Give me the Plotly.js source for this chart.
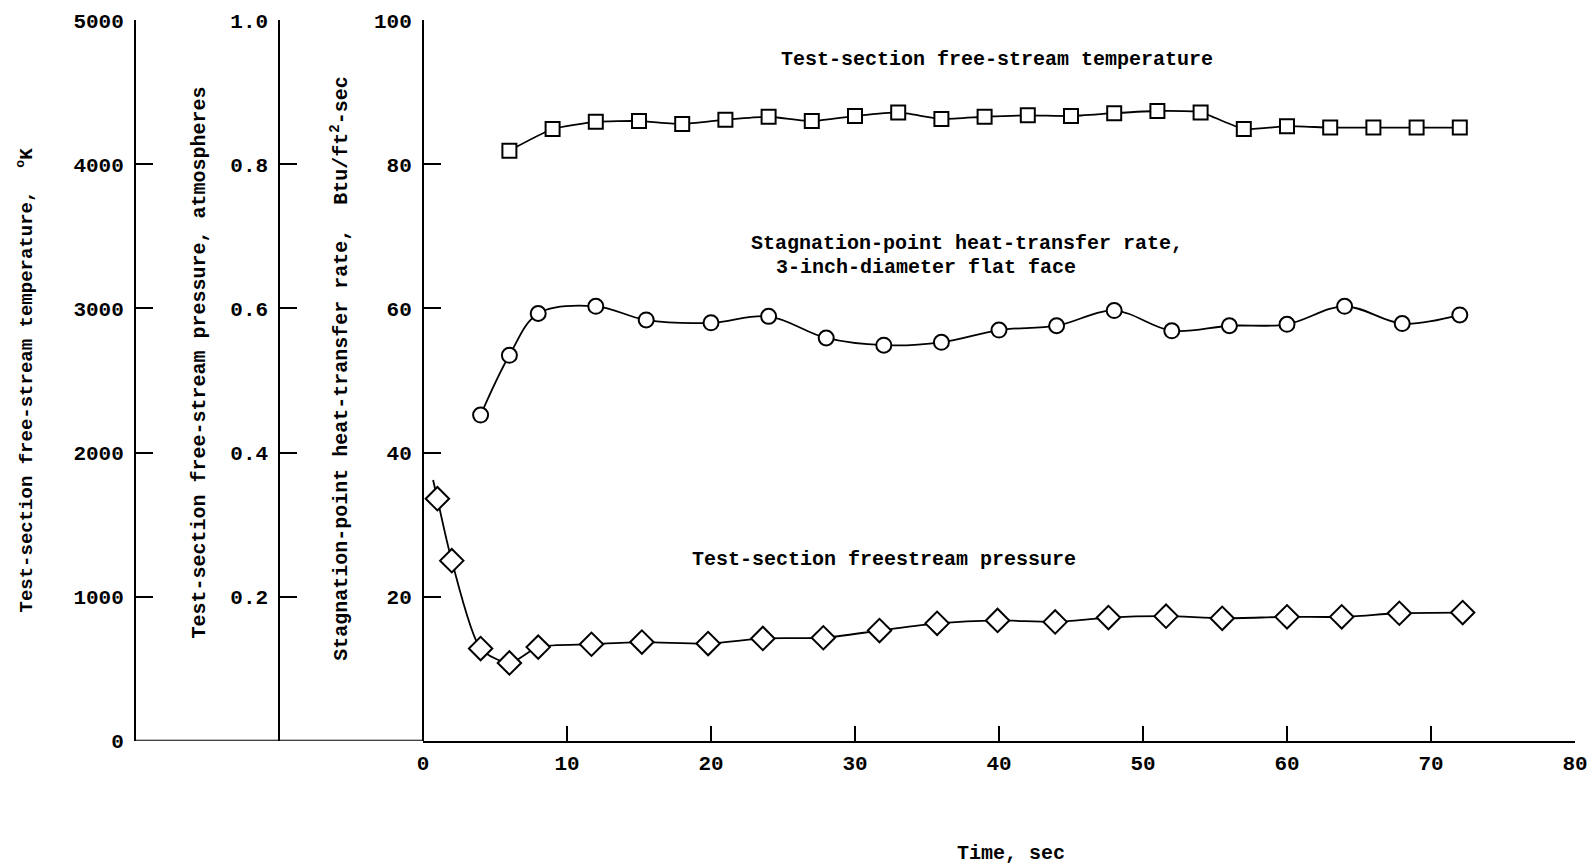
<!DOCTYPE html>
<html>
<head>
<meta charset="utf-8">
<script src="https://cdn.plot.ly/plotly-3.0.1.min.js"></script>
<style>html,body{margin:0;padding:0;background:#fff;}#chart{width:1591px;height:865px;}</style>
</head>
<body>
<div id="chart"></div>
<script>
// ---- data ----
const timeTemp = [6, 9, 12, 15, 18, 21, 24, 27, 30, 33, 36, 39, 42, 45, 48, 51, 54, 57, 60, 63, 66, 69, 72];
const tempK = [4095, 4245, 4295, 4300, 4280, 4310, 4330, 4300, 4335, 4360, 4315, 4330, 4340, 4335, 4355, 4370, 4360, 4245, 4265, 4255, 4255, 4255, 4255];

const timeHeat = [4, 6, 8, 12, 15.5, 20, 24, 28, 32, 36, 40, 44, 48, 52, 56, 60, 64, 68, 72];
const heatRate = [45.2, 53.5, 59.3, 60.3, 58.4, 58.0, 58.9, 55.9, 54.9, 55.3, 57.0, 57.6, 59.7, 56.9, 57.6, 57.8, 60.3, 57.9, 59.1];

const timePress = [1, 2, 4, 6, 8, 11.7, 15.2, 19.8, 23.6, 27.8, 31.7, 35.7, 39.9, 43.9, 47.6, 51.6, 55.5, 60, 63.8, 67.8, 72.2];
const pressAtm = [0.336, 0.250, 0.128, 0.108, 0.130, 0.134, 0.137, 0.135, 0.142, 0.143, 0.153, 0.163, 0.167, 0.165, 0.171, 0.173, 0.170, 0.172, 0.172, 0.177, 0.178];
const pressLeadTime = [0.7, 1];
const pressLead = [0.362, 0.336];

const xTicks = [0, 10, 20, 30, 40, 50, 60, 70, 80];
const heatTicks = [20, 40, 60, 80, 100];
const pressTicks = [0.2, 0.4, 0.6, 0.8, 1.0];
const tempTicks = [0, 1000, 2000, 3000, 4000, 5000];

const labelTemp = 'Test-section free-stream temperature';
const labelHeat1 = 'Stagnation-point heat-transfer rate,';
const labelHeat2 = '3-inch-diameter flat face';
const labelPress = 'Test-section freestream pressure';

// ---- layout geometry ----
const W = 1591, H = 865;
const FONT = '"Liberation Mono", "Courier New", monospace';
const NB = '\u00a0';
const pad = n => '\u200b' + NB.repeat(n);
const px = v => v / W;
const yDom = [(H - 740.8) / H, (H - 20.2) / H];
const xDom = [px(423), px(1575)];

const mk = (sym, size) => ({symbol: sym, size: size, color: '#fff', line: {color: '#000', width: 2}});

const traces = [
  {x: timeTemp, y: tempK, yaxis: 'y3', mode: 'lines+markers', type: 'scatter',
   line: {color: '#000', width: 1.8, shape: 'spline', smoothing: 0.5}, marker: mk('square', 14), cliponaxis: false},
  {x: timeHeat, y: heatRate, yaxis: 'y', mode: 'lines+markers', type: 'scatter',
   line: {color: '#000', width: 1.8, shape: 'spline', smoothing: 1}, marker: mk('circle', 15), cliponaxis: false},
  {x: pressLeadTime, y: pressLead, yaxis: 'y2', mode: 'lines', type: 'scatter',
   line: {color: '#000', width: 1.8}, cliponaxis: false},
  {x: timePress, y: pressAtm, yaxis: 'y2', mode: 'lines+markers', type: 'scatter',
   line: {color: '#000', width: 1.8, shape: 'spline', smoothing: 0.7}, marker: mk('diamond', 18), cliponaxis: false}
];

const tickFont = {family: FONT, size: 21, color: '#000', weight: 'bold'};
const titleFont = {family: FONT, size: 20, color: '#000', weight: 'bold'};

const yCommon = {
  domain: yDom, showgrid: false, zeroline: false, showline: true, linecolor: '#000', linewidth: 2,
  ticks: 'inside', ticklen: 17, tickwidth: 2, tickcolor: '#000', tickfont: tickFont,
  ticklabelstandoff: 6, automargin: false, fixedrange: true
};

const layout = {
  width: W, height: H,
  margin: {l: 0, r: 0, t: 0, b: 0, pad: 0},
  paper_bgcolor: '#fff', plot_bgcolor: 'rgba(0,0,0,0)',
  showlegend: false,
  font: {family: FONT, color: '#000'},
  xaxis: {
    domain: xDom, range: [0, 80], anchor: 'y', tickvals: xTicks,
    showgrid: false, zeroline: false, showline: true, linecolor: '#000', linewidth: 2,
    ticks: 'inside', ticklen: 15, tickwidth: 2, tickcolor: '#000', tickfont: tickFont,
    ticklabelstandoff: 2, automargin: false, fixedrange: true,
    title: {text: pad(2) + 'Time, sec', font: titleFont, standoff: 70}
  },
  yaxis: Object.assign({}, yCommon, {
    range: [0, 100], anchor: 'free', position: xDom[0], tickvals: heatTicks,
    title: {text: pad(2) + 'Stagnation-point heat-transfer rate,' + NB + NB + 'Btu/ft<sup>2</sup>-sec', font: titleFont, standoff: 20}
  }),
  yaxis2: Object.assign({}, yCommon, {
    range: [0, 1], anchor: 'free', overlaying: 'y', side: 'left', position: px(279.3),
    tickvals: pressTicks, tickformat: '.1f',
    title: {text: pad(3) + 'Test-section free-stream pressure, atmospheres', font: titleFont, standoff: 18}
  }),
  yaxis3: Object.assign({}, yCommon, {
    range: [0, 5000], anchor: 'free', overlaying: 'y', side: 'left', position: px(135),
    tickvals: tempTicks,
    title: {text: 'Test-section free-stream temperature,' + NB + NB + '<sup>o</sup>K', font: Object.assign({}, titleFont, {size: 19}), standoff: 35}
  }),
  shapes: [
    {type: 'line', xref: 'paper', yref: 'y', x0: px(135), x1: xDom[0], y0: 0, y1: 0,
     line: {color: '#000', width: 2}}
  ],
  annotations: [
    {text: labelTemp, xref: 'x', yref: 'y', x: 24.74, y: 94.5, xanchor: 'left', yanchor: 'middle', showarrow: false, font: titleFont},
    {text: labelHeat1, xref: 'x', yref: 'y', x: 22.65, y: 69.0, xanchor: 'left', yanchor: 'middle', showarrow: false, font: titleFont},
    {text: labelHeat2, xref: 'x', yref: 'y', x: 24.4, y: 65.75, xanchor: 'left', yanchor: 'middle', showarrow: false, font: titleFont},
    {text: labelPress, xref: 'x', yref: 'y', x: 18.55, y: 25.2, xanchor: 'left', yanchor: 'middle', showarrow: false, font: titleFont}
  ]
};

Plotly.newPlot('chart', traces, layout, {staticPlot: true, displayModeBar: false});
</script>
</body>
</html>
